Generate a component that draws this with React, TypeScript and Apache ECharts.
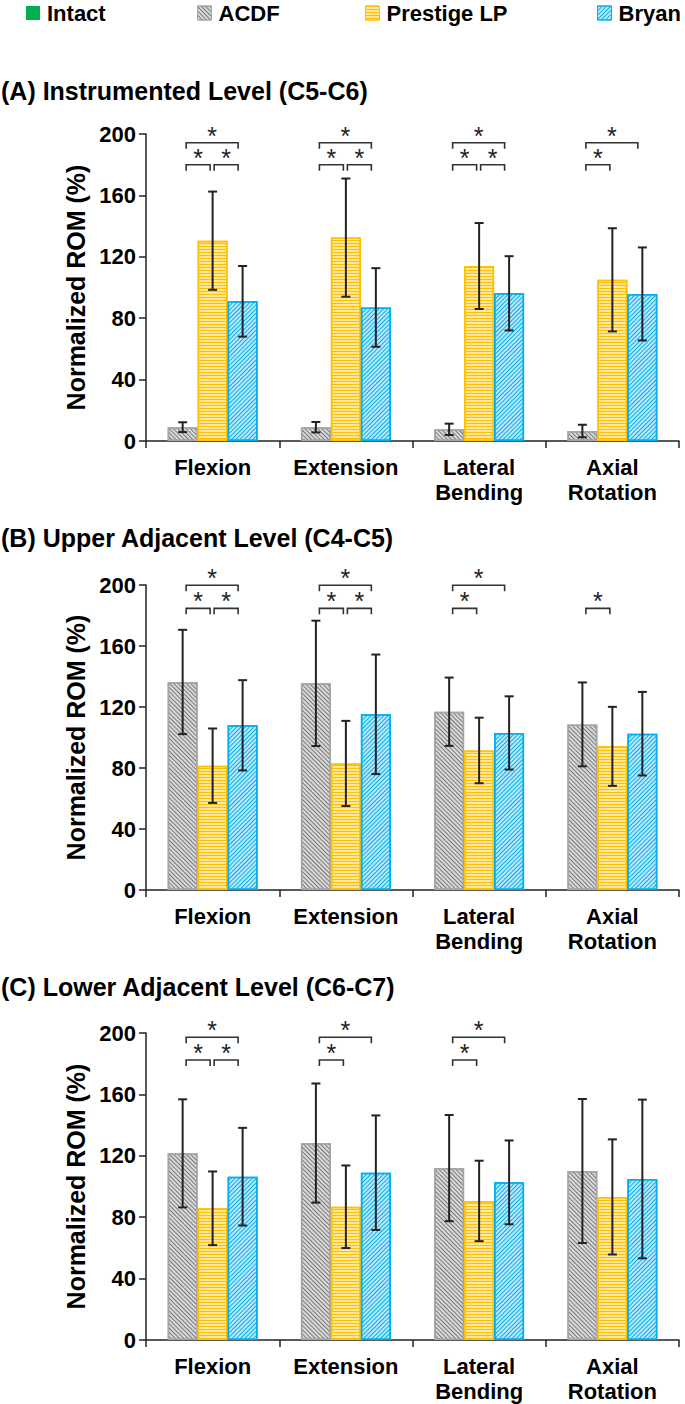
import React, { useEffect, useRef } from "react";
import * as echarts from "echarts";

// ---------- data ----------
const categories = ["Flexion", "Extension", "Lateral\nBending", "Axial\nRotation"];
const groupNames = ["ACDF", "Prestige LP", "Bryan"];
const panelTitles = [
  "(A) Instrumented Level (C5-C6)",
  "(B) Upper Adjacent Level (C4-C5)",
  "(C) Lower Adjacent Level (C6-C7)",
];
const yTicks = [0, 40, 80, 120, 160, 200];

// (A) Instrumented level
const aAcdf = [9.0, 9.0, 7.6, 6.5];
const aAcdfSd = [3.2, 3.4, 3.7, 4.1];
const aPrestige = [130.5, 132.5, 114.0, 105.0];
const aPrestigeSd = [32.0, 38.5, 28.0, 33.6];
const aBryan = [91.0, 87.0, 96.2, 95.8];
const aBryanSd = [23.0, 25.6, 24.2, 30.3];

// (B) Upper adjacent level
const bAcdf = [136.4, 135.5, 116.9, 108.6];
const bAcdfSd = [34.2, 41.1, 22.4, 27.5];
const bPrestige = [81.5, 83.0, 91.5, 94.2];
const bPrestigeSd = [24.4, 27.9, 21.5, 25.9];
const bBryan = [108.0, 115.2, 103.0, 102.5];
const bBryanSd = [29.6, 39.2, 24.0, 27.4];

// (C) Lower adjacent level
const cAcdf = [121.6, 128.3, 112.0, 110.1];
const cAcdfSd = [35.2, 38.8, 34.6, 46.9];
const cPrestige = [85.8, 86.8, 90.6, 93.2];
const cPrestigeSd = [24.0, 26.9, 26.2, 37.5];
const cBryan = [106.4, 109.0, 102.7, 104.9];
const cBryanSd = [31.8, 37.3, 27.3, 51.7];

// significance brackets: [category, fromGroup, toGroup, level(0 = lower, 1 = upper)]
const aSig = [
  [0, 0, 1, 0], [0, 1, 2, 0], [0, 0, 2, 1],
  [1, 0, 1, 0], [1, 1, 2, 0], [1, 0, 2, 1],
  [2, 0, 1, 0], [2, 1, 2, 0], [2, 0, 2, 1],
  [3, 0, 1, 0], [3, 0, 2, 1],
];
const bSig = [
  [0, 0, 1, 0], [0, 1, 2, 0], [0, 0, 2, 1],
  [1, 0, 1, 0], [1, 1, 2, 0], [1, 0, 2, 1],
  [2, 0, 1, 0], [2, 0, 2, 1],
  [3, 0, 1, 0],
];
const cSig = [
  [0, 0, 1, 0], [0, 1, 2, 0], [0, 0, 2, 1],
  [1, 0, 1, 0], [1, 0, 2, 1],
  [2, 0, 1, 0], [2, 0, 2, 1],
];
// bracket heights in axis units (lower, upper)
const aSigLevels = [180, 194.3];
const bSigLevels = [184.7, 199.8];
const cSigLevels = [182.4, 197.2];

// ---------- styling ----------
const FONT = '"Liberation Sans", Arial, sans-serif';
const BAR_FRAC = 0.225;
const INK = "#222";

const groupStyles = [
  {
    color: "#d9d9d9",
    borderColor: "#a6a6a6",
    decal: { symbol: "rect", symbolSize: 1, color: "#7a7a7a", dashArrayX: [1, 0], dashArrayY: [1, 2], rotation: Math.PI / 4 },
  },
  {
    color: "#ffe699",
    borderColor: "#ffc000",
    decal: { symbol: "rect", symbolSize: 1, color: "#ffc000", dashArrayX: [1, 0], dashArrayY: [1, 2], rotation: 0 },
  },
  {
    color: "#bfe7fa",
    borderColor: "#00b0f0",
    decal: { symbol: "rect", symbolSize: 1, color: "#00b0f0", dashArrayX: [1, 0], dashArrayY: [1, 2], rotation: -Math.PI / 4 },
  },
];

const gridRects = [
  { top: 134, height: 307 },
  { top: 585, height: 305 },
  { top: 1033, height: 307 },
];
const titleY = [91, 538, 987];

const panels = [
  { means: [aAcdf, aPrestige, aBryan], sds: [aAcdfSd, aPrestigeSd, aBryanSd], sig: aSig, levels: aSigLevels },
  { means: [bAcdf, bPrestige, bBryan], sds: [bAcdfSd, bPrestigeSd, bBryanSd], sig: bSig, levels: bSigLevels },
  { means: [cAcdf, cPrestige, cBryan], sds: [cAcdfSd, cPrestigeSd, cBryanSd], sig: cSig, levels: cSigLevels },
];

function buildOption() {
  const grid: any[] = [];
  const xAxis: any[] = [];
  const yAxis: any[] = [];
  const series: any[] = [];

  panels.forEach((p, pi) => {
    grid.push({ left: 146, width: 533, top: gridRects[pi].top, height: gridRects[pi].height, containLabel: false });
    xAxis.push({
      type: "category",
      gridIndex: pi,
      data: categories,
      boundaryGap: true,
      axisLine: { show: true, lineStyle: { color: INK, width: 1.5 } },
      axisTick: { show: true, interval: 0, alignWithLabel: false, length: 7, lineStyle: { color: INK, width: 1.5 } },
      axisLabel: { interval: 0, margin: 14, color: "#000", fontFamily: FONT, fontWeight: "bold", fontSize: 22, lineHeight: 25 },
    });
    yAxis.push({
      type: "value",
      gridIndex: pi,
      min: yTicks[0],
      max: yTicks[yTicks.length - 1],
      interval: yTicks[1] - yTicks[0],
      name: "Normalized ROM (%)",
      nameLocation: "middle",
      nameRotate: 90,
      nameGap: 58,
      nameTextStyle: { color: "#000", fontFamily: FONT, fontWeight: "bold", fontSize: 25 },
      splitLine: { show: false },
      axisLine: { show: true, lineStyle: { color: INK, width: 1.5 } },
      axisTick: { show: true, inside: false, length: 7, lineStyle: { color: INK, width: 1.5 } },
      axisLabel: { margin: 10, color: "#000", fontFamily: FONT, fontWeight: "bold", fontSize: 22 },
    });

    p.means.forEach((vals, gi) => {
      const st = groupStyles[gi];
      series.push({
        type: "bar",
        name: groupNames[gi],
        xAxisIndex: pi,
        yAxisIndex: pi,
        barWidth: BAR_FRAC * 100 + "%",
        barGap: "0%",
        data: vals,
        itemStyle: { color: st.color, borderColor: st.borderColor, borderWidth: 1.5, decal: st.decal },
        emphasis: { disabled: true },
      });
    });

    // error bars
    const errData: number[][] = [];
    p.means.forEach((vals, gi) => {
      vals.forEach((m, ci) => {
        errData.push([ci, gi, m - p.sds[gi][ci], m + p.sds[gi][ci]]);
      });
    });
    series.push({
      type: "custom",
      name: "err" + pi,
      xAxisIndex: pi,
      yAxisIndex: pi,
      encode: { x: 0, y: [2, 3] },
      data: errData,
      z: 5,
      renderItem: (params: any, api: any) => {
        const cat = api.value(0);
        const g = api.value(1);
        const band = api.size([1, 0])[0];
        const bw = band * BAR_FRAC;
        const cx = api.coord([cat, 0])[0] + (g - 1) * bw;
        const yLo = api.coord([cat, api.value(2)])[1];
        const yHi = api.coord([cat, api.value(3)])[1];
        const cap = 4.5;
        const st = { stroke: INK, lineWidth: 2 };
        return {
          type: "group",
          children: [
            { type: "line", shape: { x1: cx, y1: yHi, x2: cx, y2: yLo }, style: st },
            { type: "line", shape: { x1: cx - cap, y1: yHi, x2: cx + cap, y2: yHi }, style: st },
            { type: "line", shape: { x1: cx - cap, y1: yLo, x2: cx + cap, y2: yLo }, style: st },
          ],
        };
      },
    });

    // significance brackets
    const sigData = p.sig.map((s) => [s[0], s[1], s[2], p.levels[s[3]]]);
    series.push({
      type: "custom",
      name: "sig" + pi,
      xAxisIndex: pi,
      yAxisIndex: pi,
      encode: { x: 0, y: 3 },
      data: sigData,
      z: 6,
      renderItem: (params: any, api: any) => {
        const cat = api.value(0);
        const a = api.value(1);
        const b = api.value(2);
        const band = api.size([1, 0])[0];
        const bw = band * BAR_FRAC;
        const c = api.coord([cat, api.value(3)]);
        const xa = c[0] + (a - 1) * bw + (a === 1 ? 1.5 : 3.5);
        const xb = c[0] + (b - 1) * bw - (b === 2 ? 4.5 : 2.5);
        const y = c[1];
        return {
          type: "group",
          children: [
            {
              type: "polyline",
              shape: { points: [[xa, y + 6], [xa, y], [xb, y], [xb, y + 6]] },
              style: { stroke: "#333", lineWidth: 1.6, fill: null },
            },
            {
              type: "text",
              x: (xa + xb) / 2,
              y: y - 7,
              style: {
                text: "*",
                fontFamily: FONT,
                fontSize: 25,
                fill: INK,
                align: "center",
                verticalAlign: "middle",
                textAlign: "center",
                textVerticalAlign: "middle",
              },
            },
          ],
        };
      },
    });
  });

  // legend-only "Intact" entry
  series.push({
    type: "line",
    name: "Intact",
    xAxisIndex: 0,
    yAxisIndex: 0,
    data: [],
    itemStyle: { color: "#00b050" },
    lineStyle: { color: "#00b050" },
  });

  const legendText = { fontFamily: FONT, fontWeight: "bold", fontSize: 22, color: "#000", padding: [0, 0, 0, 2] };
  const legendLefts = [26, 197, 365, 597];
  const legendNames = ["Intact", ...groupNames];
  const legend = legendNames.map((n, i) => ({
    data: [n],
    left: legendLefts[i],
    top: 2,
    padding: 0,
    icon: "rect",
    itemWidth: 14,
    itemHeight: 14,
    selectedMode: false,
    textStyle: legendText,
    itemStyle: i === 0 ? { color: "#00b050", borderWidth: 0 } : { borderWidth: 1 },
  }));

  const graphic = panelTitles.map((t, i) => ({
    type: "text",
    x: 1,
    y: titleY[i],
    style: {
      text: t,
      fontFamily: FONT,
      fontWeight: "bold",
      fontSize: 25,
      fill: "#000",
      verticalAlign: "middle",
      textVerticalAlign: "middle",
    },
  }));

  return {
    animation: false,
    backgroundColor: "#fff",
    grid,
    xAxis,
    yAxis,
    legend,
    graphic,
    series,
  };
}

export default function App() {
  const ref = useRef<HTMLDivElement>(null);
  useEffect(() => {
    if (!ref.current) return;
    const chart = echarts.init(ref.current, undefined, { renderer: "svg" });
    chart.setOption(buildOption() as any);
    return () => chart.dispose();
  }, []);
  return (
    <div
      ref={ref}
      style={{ position: "absolute", left: 0, top: 0, width: 685, height: 1404, background: "#fff" }}
    />
  );
}
